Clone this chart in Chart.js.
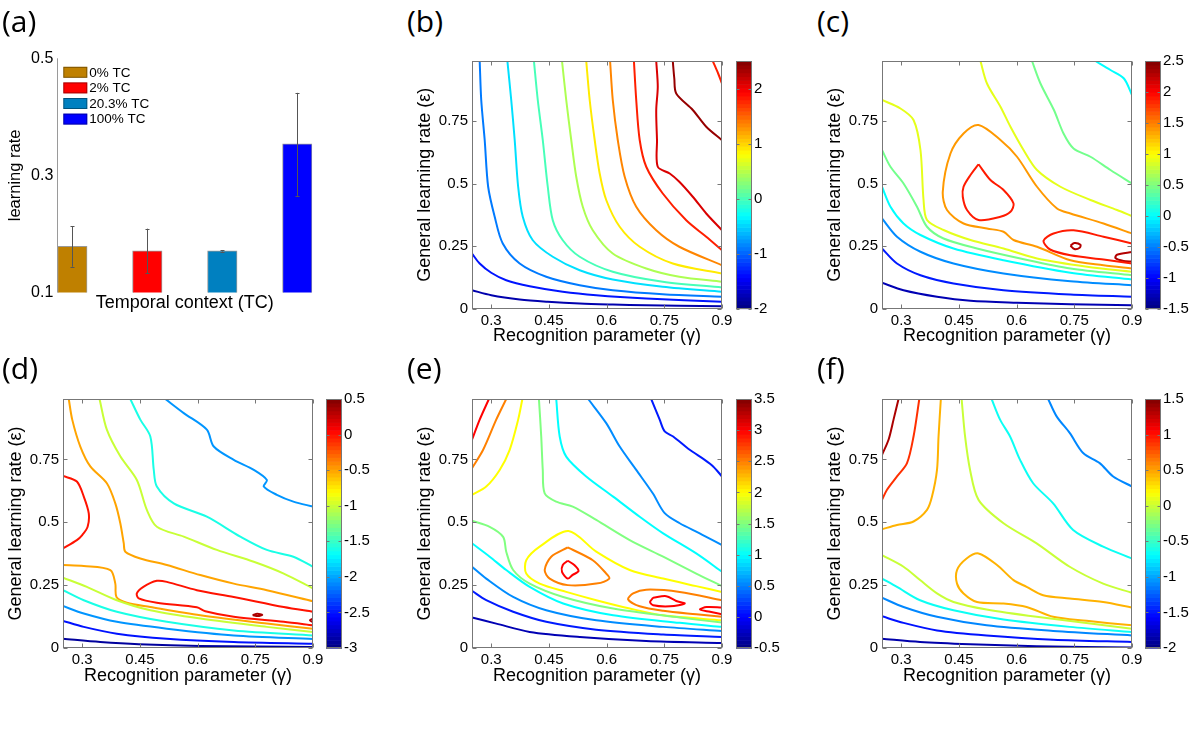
<!DOCTYPE html>
<html><head><meta charset="utf-8">
<script src="https://cdn.jsdelivr.net/npm/chart.js@4.4.0/dist/chart.umd.min.js"></script>
<style>
body{margin:0;background:#fff}
#fig{position:relative;width:1200px;height:730px;overflow:hidden;background:#fff}
#fig canvas{position:absolute}
.plab{position:absolute;font-family:'Open Sans',sans-serif;font-size:30px;line-height:30px;color:#000}
</style></head>
<body><div id="fig"></div>
<script>
// ---------------- DATA ----------------
// (a) bar chart
const barCategories = ['0% TC', '2% TC', '20.3% TC', '100% TC'];
const barValues = [0.179, 0.171, 0.171, 0.354];
const barErrLow = [0.144, 0.133, 0.170, 0.265];
const barErrHigh = [0.213, 0.209, 0.172, 0.441];
const barTicks = [0.1, 0.3, 0.5];

// shared contour axes
const gammaTicks = [0.3, 0.45, 0.6, 0.75, 0.9];
const epsTicks = [0, 0.25, 0.5, 0.75];

// (b) contour lines [gamma, epsilon]
const bL1 = [[0.25,0.073],[0.30,0.053],[0.374,0.036],[0.447,0.027],[0.53,0.020],[0.616,0.016],[0.703,0.013],[0.789,0.011],[0.9,0.009]];
const bL2 = [[0.25,0.22],[0.27,0.18],[0.30,0.143],[0.339,0.113],[0.40,0.089],[0.486,0.067],[0.573,0.053],[0.703,0.04],[0.9,0.027]];
const bL3 = [[0.27,0.99],[0.274,0.834],[0.283,0.674],[0.292,0.487],[0.309,0.367],[0.33,0.26],[0.374,0.18],[0.443,0.127],[0.53,0.093],[0.616,0.073],[0.746,0.057],[0.9,0.047]];
const bL4 = [[0.342,0.99],[0.352,0.834],[0.361,0.674],[0.37,0.487],[0.382,0.367],[0.408,0.273],[0.46,0.207],[0.53,0.153],[0.616,0.116],[0.746,0.087],[0.9,0.067]];
const bL5 = [[0.411,0.99],[0.421,0.834],[0.434,0.674],[0.447,0.487],[0.46,0.353],[0.486,0.273],[0.53,0.207],[0.616,0.147],[0.746,0.107],[0.9,0.084]];
const bL6 = [[0.484,0.99],[0.495,0.834],[0.508,0.674],[0.521,0.527],[0.538,0.407],[0.564,0.313],[0.616,0.22],[0.703,0.16],[0.789,0.127],[0.9,0.107]];
const bL7 = [[0.547,0.99],[0.556,0.834],[0.569,0.674],[0.582,0.54],[0.599,0.434],[0.634,0.327],[0.686,0.247],[0.772,0.18],[0.9,0.14]];
const bL8 = [[0.609,0.99],[0.616,0.834],[0.629,0.674],[0.647,0.527],[0.677,0.407],[0.729,0.313],[0.789,0.247],[0.9,0.173]];
const bL9 = [[0.671,0.99],[0.677,0.834],[0.686,0.674],[0.703,0.567],[0.746,0.46],[0.807,0.353],[0.859,0.287],[0.9,0.233]];
const bL10 = [[0.729,0.99],[0.733,0.887],[0.729,0.794],[0.731,0.674],[0.733,0.567],[0.764,0.54],[0.789,0.507],[0.824,0.447],[0.859,0.38],[0.9,0.313]];
const bL11 = [[0.772,0.99],[0.776,0.92],[0.781,0.86],[0.824,0.794],[0.859,0.727],[0.9,0.673]];
const bL12 = [[0.876,0.99],[0.89,0.94],[0.9,0.9]];
const bLevels = [-1.8,-1.35,-0.9,-0.45,0,0.45,0.9,1.35,1.8,2.1,2.4,1.8];
const bRange = [-2, 2.5];
const bBarTicks = [-2,-1,0,1,2];

// (c)
const cL1 = [[0.25,0.103],[0.306,0.073],[0.393,0.047],[0.48,0.031],[0.601,0.023],[0.74,0.017],[0.9,0.013]];
const cL2 = [[0.25,0.24],[0.289,0.18],[0.35,0.133],[0.436,0.1],[0.566,0.073],[0.74,0.056],[0.9,0.047]];
const cL3 = [[0.25,0.36],[0.289,0.287],[0.35,0.227],[0.436,0.18],[0.566,0.14],[0.74,0.109],[0.9,0.093]];
const cL4 = [[0.25,0.487],[0.272,0.407],[0.306,0.34],[0.35,0.294],[0.436,0.24],[0.566,0.193],[0.74,0.143],[0.9,0.116]];
const cL5 = [[0.25,0.634],[0.272,0.567],[0.306,0.5],[0.341,0.407],[0.367,0.327],[0.41,0.28],[0.497,0.24],[0.61,0.2],[0.74,0.16],[0.9,0.133]];
const cL6 = [[0.25,0.834],[0.298,0.8],[0.332,0.754],[0.35,0.634],[0.358,0.434],[0.367,0.354],[0.41,0.314],[0.48,0.274],[0.566,0.24],[0.653,0.2],[0.783,0.167],[0.9,0.147]];
const cL7 = [[0.9,0.3],[0.826,0.34],[0.74,0.38],[0.705,0.4],[0.653,0.487],[0.601,0.607],[0.558,0.674],[0.501,0.734],[0.462,0.7],[0.428,0.62],[0.408,0.467],[0.419,0.394],[0.462,0.34],[0.523,0.32],[0.566,0.307],[0.592,0.274],[0.653,0.247],[0.74,0.193],[0.826,0.173],[0.9,0.16]];
const cL8 = [[0.501,0.577],[0.532,0.514],[0.566,0.474],[0.592,0.42],[0.584,0.387],[0.558,0.367],[0.501,0.354],[0.471,0.394],[0.46,0.447],[0.462,0.487],[0.48,0.534],[0.501,0.577]];
const cL9 = [[0.9,0.26],[0.826,0.287],[0.748,0.313],[0.696,0.3],[0.67,0.271],[0.687,0.236],[0.74,0.213],[0.826,0.196],[0.9,0.18]];
const cL10 = [[0.74,0.251],[0.75,0.262],[0.766,0.255],[0.764,0.243],[0.75,0.238],[0.74,0.251]];
const cL11 = [[0.9,0.226],[0.861,0.215],[0.857,0.202],[0.878,0.19],[0.9,0.188]];
const cL12 = [[0.64,0.99],[0.662,0.9],[0.697,0.794],[0.722,0.7],[0.748,0.64],[0.792,0.607],[0.844,0.554],[0.9,0.5]];
const cL13 = [[0.506,0.99],[0.523,0.9],[0.558,0.807],[0.584,0.727],[0.618,0.634],[0.653,0.554],[0.714,0.487],[0.792,0.434],[0.861,0.394],[0.9,0.37]];
const cL14 = [[0.805,0.99],[0.844,0.954],[0.879,0.92],[0.9,0.854]];
const cLevels = [-1.3,-0.9,-0.45,0,0.45,0.9,1.4,1.9,1.9,2.3,2.3,0.45,0.9,0];
const cRange = [-1.5, 2.5];
const cBarTicks = [-1.5,-1,-0.5,0,0.5,1,1.5,2,2.5];

// (d)
const dL1 = [[0.25,0.037],[0.347,0.024],[0.447,0.015],[0.607,0.008],[0.9,0.004]];
const dL2 = [[0.25,0.108],[0.304,0.084],[0.39,0.057],[0.52,0.037],[0.694,0.024],[0.9,0.017]];
const dL3 = [[0.25,0.167],[0.304,0.137],[0.39,0.104],[0.52,0.077],[0.694,0.05],[0.9,0.036]];
const dL4 = [[0.25,0.23],[0.304,0.19],[0.39,0.144],[0.52,0.104],[0.694,0.07],[0.9,0.05]];
const dL5 = [[0.25,0.28],[0.312,0.243],[0.39,0.19],[0.477,0.15],[0.607,0.117],[0.78,0.084],[0.9,0.064]];
const dL6 = [[0.25,0.33],[0.304,0.326],[0.373,0.31],[0.386,0.256],[0.389,0.203],[0.416,0.18],[0.477,0.163],[0.607,0.13],[0.78,0.097],[0.9,0.077]];
const dL7 = [[0.265,0.99],[0.274,0.908],[0.295,0.801],[0.321,0.722],[0.364,0.655],[0.386,0.575],[0.399,0.496],[0.408,0.416],[0.412,0.383],[0.451,0.356],[0.52,0.33],[0.607,0.29],[0.694,0.256],[0.78,0.23],[0.9,0.186]];
const dL8 = [[0.9,0.144],[0.824,0.163],[0.694,0.203],[0.598,0.23],[0.52,0.263],[0.494,0.267],[0.459,0.243],[0.442,0.217],[0.447,0.197],[0.494,0.18],[0.598,0.162],[0.62,0.146],[0.694,0.124],[0.824,0.104],[0.9,0.09]];
const dL9 = [[0.25,0.684],[0.286,0.662],[0.304,0.602],[0.317,0.535],[0.314,0.482],[0.3,0.449],[0.286,0.429],[0.25,0.396]];
const dL10 = [[0.345,0.99],[0.364,0.868],[0.399,0.762],[0.442,0.668],[0.468,0.549],[0.494,0.482],[0.564,0.443],[0.65,0.39],[0.746,0.343],[0.824,0.296],[0.9,0.237]];
const dL11 = [[0.425,0.99],[0.451,0.908],[0.477,0.841],[0.486,0.708],[0.494,0.642],[0.538,0.575],[0.624,0.522],[0.711,0.443],[0.78,0.39],[0.849,0.363],[0.9,0.323]];
const dL12 = [[0.516,0.99],[0.564,0.934],[0.624,0.868],[0.642,0.801],[0.694,0.748],[0.746,0.708],[0.78,0.668],[0.772,0.642],[0.806,0.609],[0.849,0.582],[0.9,0.562]];
const dL13 = [[0.743,0.131],[0.755,0.136],[0.768,0.132],[0.757,0.127],[0.743,0.131]];
const dL14 = [[0.9,0.117],[0.892,0.11],[0.9,0.102]];
const dLevels = [-2.9,-2.5,-2.05,-1.6,-1.0,-0.5,-0.5,0,0,-1.0,-1.6,-2.05,0.35,0.35];
const dRange = [-3, 0.5];
const dBarTicks = [-3,-2.5,-2,-1.5,-1,-0.5,0,0.5];

// (e)
const eL1 = [[0.25,0.121],[0.313,0.097],[0.4,0.064],[0.53,0.044],[0.703,0.028],[0.9,0.02]];
const eL2 = [[0.25,0.227],[0.287,0.19],[0.357,0.144],[0.443,0.104],[0.573,0.073],[0.747,0.054],[0.9,0.044]];
const eL3 = [[0.25,0.323],[0.287,0.276],[0.357,0.203],[0.443,0.15],[0.573,0.11],[0.747,0.084],[0.9,0.068]];
const eL4 = [[0.25,0.416],[0.296,0.363],[0.339,0.31],[0.4,0.243],[0.487,0.177],[0.617,0.13],[0.79,0.1],[0.9,0.084]];
const eL5 = [[0.25,0.506],[0.296,0.482],[0.331,0.442],[0.339,0.383],[0.357,0.31],[0.4,0.256],[0.487,0.203],[0.617,0.157],[0.79,0.121],[0.9,0.101]];
const eL6 = [[0.9,0.223],[0.833,0.246],[0.747,0.276],[0.66,0.31],[0.573,0.383],[0.501,0.465],[0.426,0.403],[0.391,0.349],[0.391,0.296],[0.426,0.256],[0.495,0.223],[0.573,0.19],[0.66,0.157],[0.747,0.13],[0.9,0.11]];
const eL7 = [[0.499,0.4],[0.564,0.349],[0.599,0.296],[0.607,0.276],[0.573,0.256],[0.499,0.25],[0.452,0.276],[0.439,0.31],[0.456,0.363],[0.499,0.4]];
const eL8 = [[0.499,0.347],[0.516,0.33],[0.527,0.306],[0.511,0.29],[0.499,0.276],[0.484,0.303],[0.486,0.33],[0.499,0.347]];
const eL9 = [[0.9,0.19],[0.79,0.223],[0.703,0.232],[0.669,0.217],[0.656,0.193],[0.686,0.166],[0.747,0.148],[0.833,0.134],[0.9,0.124]];
const eL10 = [[0.721,0.2],[0.755,0.206],[0.781,0.187],[0.803,0.177],[0.765,0.166],[0.721,0.17],[0.713,0.183],[0.721,0.2]];
const eL11 = [[0.9,0.161],[0.86,0.163],[0.843,0.153],[0.869,0.144],[0.9,0.134]];
const eL12 = [[0.424,0.99],[0.43,0.841],[0.434,0.708],[0.439,0.615],[0.469,0.582],[0.512,0.562],[0.573,0.509],[0.66,0.429],[0.747,0.363],[0.833,0.296],[0.9,0.246]];
const eL13 = [[0.469,0.99],[0.478,0.841],[0.495,0.761],[0.547,0.682],[0.617,0.602],[0.686,0.522],[0.747,0.456],[0.833,0.376],[0.9,0.303]];
const eL14 = [[0.552,0.99],[0.599,0.894],[0.634,0.801],[0.677,0.708],[0.72,0.615],[0.751,0.536],[0.79,0.496],[0.842,0.456],[0.9,0.409]];
const eL15 = [[0.716,0.99],[0.738,0.908],[0.751,0.861],[0.773,0.841],[0.816,0.788],[0.855,0.748],[0.877,0.722],[0.9,0.682]];
const eL16 = [[0.25,0.828],[0.27,0.908],[0.294,0.99]];
const eL17 = [[0.25,0.715],[0.279,0.788],[0.313,0.908],[0.339,0.99]];
const eL18 = [[0.25,0.609],[0.287,0.642],[0.322,0.708],[0.348,0.788],[0.37,0.908],[0.381,0.99]];
const eLevels = [-0.3,0.1,0.55,1.0,1.5,2.0,2.5,3.0,2.5,3.0,3.0,1.5,1.0,0.55,0.1,3.0,2.5,2.0];
const eRange = [-0.5, 3.5];
const eBarTicks = [-0.5,0,0.5,1,1.5,2,2.5,3,3.5];

// (f)
const fL1 = [[0.25,0.037],[0.349,0.024],[0.479,0.015],[0.652,0.007],[0.9,0.002]];
const fL2 = [[0.25,0.126],[0.306,0.1],[0.393,0.07],[0.522,0.05],[0.695,0.033],[0.9,0.024]];
const fL3 = [[0.25,0.2],[0.306,0.163],[0.393,0.124],[0.522,0.09],[0.695,0.068],[0.9,0.05]];
const fL4 = [[0.25,0.276],[0.289,0.243],[0.349,0.19],[0.436,0.15],[0.566,0.113],[0.738,0.084],[0.9,0.064]];
const fL5 = [[0.25,0.369],[0.306,0.323],[0.349,0.27],[0.393,0.217],[0.436,0.183],[0.522,0.153],[0.652,0.124],[0.9,0.077]];
const fL6 = [[0.9,0.161],[0.825,0.183],[0.738,0.197],[0.669,0.21],[0.626,0.243],[0.592,0.27],[0.549,0.33],[0.501,0.376],[0.47,0.356],[0.445,0.31],[0.445,0.256],[0.462,0.217],[0.497,0.183],[0.566,0.177],[0.626,0.163],[0.695,0.124],[0.782,0.108],[0.9,0.09]];
const fL7 = [[0.457,0.99],[0.466,0.841],[0.479,0.708],[0.501,0.589],[0.566,0.496],[0.652,0.416],[0.738,0.323],[0.825,0.256],[0.9,0.219]];
const fL8 = [[0.535,0.99],[0.557,0.908],[0.583,0.841],[0.609,0.748],[0.643,0.655],[0.695,0.575],[0.747,0.469],[0.825,0.403],[0.9,0.356]];
const fL9 = [[0.682,0.99],[0.704,0.921],[0.738,0.855],[0.773,0.775],[0.816,0.735],[0.851,0.682],[0.9,0.642]];
const fL10 = [[0.403,0.99],[0.397,0.841],[0.393,0.708],[0.38,0.602],[0.367,0.549],[0.332,0.503],[0.289,0.489],[0.25,0.472]];
const fL11 = [[0.347,0.99],[0.332,0.841],[0.315,0.735],[0.289,0.682],[0.263,0.629],[0.25,0.589]];
const fL12 = [[0.293,0.99],[0.28,0.908],[0.267,0.828],[0.25,0.768]];
const fLevels = [-1.85,-1.5,-1.1,-0.65,0.0,0.45,0.0,-0.65,-1.1,0.45,0.9,1.35];
const fRange = [-2, 1.5];
const fBarTicks = [-2,-1.5,-1,-0.5,0,0.5,1,1.5];

// ---------------- RENDERING ----------------
Chart.defaults.font.family = "'Liberation Sans', Arial, Helvetica, sans-serif";
Chart.defaults.color = '#000';
const fig = document.getElementById('fig');
const BOX = '#777';

function clamp01(v){ return Math.max(0, Math.min(1, v)); }
function jet(t){
  t = clamp01(t);
  const r = clamp01(1.5 - Math.abs(4*t - 3));
  const g = clamp01(1.5 - Math.abs(4*t - 2));
  const b = clamp01(1.5 - Math.abs(4*t - 1));
  return 'rgb(' + Math.round(r*255) + ',' + Math.round(g*255) + ',' + Math.round(b*255) + ')';
}
function makeCanvas(left, top, w, h){
  const c = document.createElement('canvas');
  c.width = w; c.height = h;
  c.style.left = left + 'px'; c.style.top = top + 'px';
  c.style.width = w + 'px'; c.style.height = h + 'px';
  fig.appendChild(c);
  return c;
}
function label(text, left, top){
  const d = document.createElement('div');
  d.className = 'plab'; d.textContent = text;
  d.style.left = left + 'px'; d.style.top = top + 'px';
  fig.appendChild(d);
}

const boxPlugin = {
  id: 'matBox',
  afterDatasetsDraw(chart){
    const {ctx, chartArea: a, scales: {x, y}} = chart;
    const L = Math.round(a.left) + 0.5, R = Math.round(a.right) - 0.5;
    const T = Math.round(a.top) + 0.5, B = Math.round(a.bottom) - 0.5;
    ctx.save();
    ctx.strokeStyle = BOX; ctx.lineWidth = 1;
    ctx.strokeRect(L, T, R - L, B - T);
    ctx.beginPath();
    gammaTicks.forEach(v => {
      const px = Math.round(x.getPixelForValue(v)) + 0.5;
      ctx.moveTo(px, B); ctx.lineTo(px, B - 4);
      ctx.moveTo(px, T); ctx.lineTo(px, T + 4);
    });
    epsTicks.forEach(v => {
      const py = Math.round(y.getPixelForValue(v)) + 0.5;
      ctx.moveTo(L, py); ctx.lineTo(L + 4, py);
      ctx.moveTo(R, py); ctx.lineTo(R - 4, py);
    });
    ctx.stroke();
    ctx.restore();
  }
};

function contourChart(p){
  const cv = makeCanvas(p.cx, p.cy, p.cw, p.ch);
  const datasets = p.lines.map((pts, i) => ({
    data: pts.map(q => ({x: q[0], y: q[1]})),
    showLine: true,
    borderColor: jet((p.levels[i] - p.range[0]) / (p.range[1] - p.range[0])),
    borderWidth: 2,
    pointRadius: 0, pointHoverRadius: 0,
    tension: 0.3, fill: false
  }));
  new Chart(cv, {
    type: 'scatter',
    data: {datasets},
    options: {
      responsive: false, animation: false, events: [],
      layout: {padding: {left: 0, top: 14, right: p.cw - 58 - 250, bottom: 0}},
      plugins: {legend: {display: false}, tooltip: {enabled: false}},
      scales: {
        x: {
          type: 'linear', min: 0.25, max: 0.9,
          afterBuildTicks: s => { s.ticks = gammaTicks.map(v => ({value: v})); },
          afterFit: s => { s.height = p.xh; },
          grid: {display: false, drawTicks: false}, border: {display: false},
          ticks: {font: {size: 15}, color: '#000', padding: 3, maxRotation: 0, autoSkip: false, callback: v => String(v)},
          title: {display: true, text: 'Recognition parameter (\u03b3)', font: {size: 18}, color: '#000', padding: 0}
        },
        y: {
          type: 'linear', min: 0, max: 0.99,
          afterBuildTicks: s => { s.ticks = epsTicks.map(v => ({value: v})); },
          afterFit: s => { s.width = 58; },
          grid: {display: false, drawTicks: false}, border: {display: false},
          ticks: {font: {size: 15}, color: '#000', padding: 4, autoSkip: false, callback: v => String(v)},
          title: {display: true, text: 'General learning rate (\u03b5)', font: {size: 18}, color: '#000', padding: 0}
        }
      }
    },
    plugins: [boxPlugin]
  });
}

const cbPlugin = {
  id: 'cbar',
  beforeDatasetsDraw(chart){
    const {ctx, chartArea: a, scales: {y}} = chart;
    const lo = y.min, hi = y.max, n = 64, step = (hi - lo) / n;
    ctx.save();
    for (let k = 0; k < n; k++){
      const y0 = y.getPixelForValue(lo + k*step), y1 = y.getPixelForValue(lo + (k+1)*step);
      ctx.fillStyle = jet((k + 0.5) / n);
      ctx.fillRect(a.left, y1, a.right - a.left, y0 - y1 + 0.6);
    }
    const L = Math.round(a.left) + 0.5, R = Math.round(a.right) - 0.5;
    const T = Math.round(a.top) + 0.5, B = Math.round(a.bottom) - 0.5;
    ctx.strokeStyle = BOX; ctx.lineWidth = 1;
    ctx.strokeRect(L, T, R - L, B - T);
    ctx.beginPath();
    chart.options.scales.y.cbTicks.forEach(v => {
      const py = Math.round(y.getPixelForValue(v)) + 0.5;
      ctx.moveTo(L, py); ctx.lineTo(L + 3, py);
      ctx.moveTo(R, py); ctx.lineTo(R - 3, py);
    });
    ctx.stroke();
    ctx.restore();
  }
};

function colorbar(p){
  const cv = makeCanvas(p.bx - 2, p.cy, 63, p.ch);
  new Chart(cv, {
    type: 'scatter',
    data: {datasets: []},
    options: {
      responsive: false, animation: false, events: [],
      layout: {padding: {left: 2, top: 14, right: 0, bottom: p.bpad}},
      plugins: {legend: {display: false}, tooltip: {enabled: false}},
      scales: {
        x: {display: false, min: 0, max: 1},
        y: {
          position: 'right', min: p.range[0], max: p.range[1], cbTicks: p.ticks,
          afterBuildTicks: s => { s.ticks = p.ticks.map(v => ({value: v})); },
          afterFit: s => { s.width = 45; },
          grid: {display: false, drawTicks: false}, border: {display: false},
          ticks: {font: {size: 15}, color: '#000', padding: 2, autoSkip: false, callback: v => String(v)}
        }
      }
    },
    plugins: [cbPlugin]
  });
}

// (a) bar chart
const barColors = ['#BF8000', '#FF0000', '#0080C0', '#0000FF'];
const errPlugin = {
  id: 'errbars',
  afterDatasetsDraw(chart){
    const {ctx, chartArea: a, scales: {x, y}} = chart;
    ctx.save();
    ctx.strokeStyle = '#9a9a9a'; ctx.lineWidth = 1;
    ctx.beginPath();
    ctx.moveTo(Math.round(a.left) + 0.5, a.top); ctx.lineTo(Math.round(a.left) + 0.5, a.bottom);
    ctx.stroke();
    ctx.strokeStyle = '#555'; ctx.lineWidth = 1;
    ctx.beginPath();
    barValues.forEach((v, i) => {
      const px = Math.round(x.getPixelForValue(i + 1)) + 0.5;
      const yl = y.getPixelForValue(barErrLow[i]), yh = y.getPixelForValue(barErrHigh[i]);
      ctx.moveTo(px, yl); ctx.lineTo(px, yh);
      ctx.moveTo(px - 2, Math.round(yl) + 0.5); ctx.lineTo(px + 2, Math.round(yl) + 0.5);
      ctx.moveTo(px - 2, Math.round(yh) + 0.5); ctx.lineTo(px + 2, Math.round(yh) + 0.5);
    });
    ctx.stroke();
    ctx.font = "13.5px 'Liberation Sans', Arial, sans-serif";
    ctx.textBaseline = 'middle'; ctx.textAlign = 'left';
    barCategories.forEach((c, i) => {
      const cy = a.top + 14 + i * 15.6;
      ctx.fillStyle = barColors[i];
      ctx.fillRect(a.left + 6, cy - 5.5, 24, 11);
      ctx.strokeStyle = 'rgba(0,0,0,0.35)';
      ctx.strokeRect(a.left + 6.5, cy - 5, 23, 10);
      ctx.fillStyle = '#000';
      ctx.fillText(c, a.left + 32, cy + 0.5);
    });
    ctx.restore();
  }
};
const cvA = makeCanvas(0, 40, 329, 274);
new Chart(cvA, {
  type: 'bar',
  data: {datasets: [{
    data: barValues.map((v, i) => ({x: i + 1, y: v})),
    backgroundColor: barColors,
    borderColor: 'rgba(0,0,0,0.4)', borderWidth: 1,
    barThickness: 29.5, clip: 0
  }]},
  options: {
    responsive: false, animation: false, events: [],
    layout: {padding: {left: 5.8, top: 18.3, right: 16.7, bottom: 0}},
    plugins: {legend: {display: false}, tooltip: {enabled: false}},
    scales: {
      x: {
        type: 'linear', min: 0.8, max: 4.2, offset: false,
        ticks: {display: false}, grid: {display: false, drawTicks: false, offset: false}, border: {display: false},
        afterFit: s => { s.height = 21.5; },
        title: {display: true, text: 'Temporal context (TC)', font: {size: 18}, color: '#000', padding: 0}
      },
      y: {
        min: 0.1, max: 0.5,
        afterBuildTicks: s => { s.ticks = barTicks.map(v => ({value: v})); },
        afterFit: s => { s.width = 51.5; },
        grid: {display: false, drawTicks: false}, border: {display: false},
        ticks: {font: {size: 16}, color: '#000', padding: 4, callback: v => String(v)},
        title: {display: true, text: 'learning rate', font: {size: 16.5}, color: '#000', padding: 0}
      }
    }
  },
  plugins: [errPlugin]
});

// contour panels
const row1 = {cy: 47, ch: 300, xh: 38.5, cbh: 276, bpad: 14.5};
const row2 = {cy: 385, ch: 302, xh: 39, cbh: 277, bpad: 14};
const panels = [
  {cx: 414, row: row1, bx: 736, lines: [bL1,bL2,bL3,bL4,bL5,bL6,bL7,bL8,bL9,bL10,bL11,bL12], levels: bLevels, range: bRange, ticks: bBarTicks},
  {cx: 824, row: row1, bx: 1145, lines: [cL1,cL2,cL3,cL4,cL5,cL6,cL7,cL8,cL9,cL10,cL11,cL12,cL13,cL14], levels: cLevels, range: cRange, ticks: cBarTicks},
  {cx: 5, row: row2, bx: 326, lines: [dL1,dL2,dL3,dL4,dL5,dL6,dL7,dL8,dL9,dL10,dL11,dL12,dL13,dL14], levels: dLevels, range: dRange, ticks: dBarTicks},
  {cx: 414, row: row2, bx: 736, lines: [eL1,eL2,eL3,eL4,eL5,eL6,eL7,eL8,eL9,eL10,eL11,eL12,eL13,eL14,eL15,eL16,eL17,eL18], levels: eLevels, range: eRange, ticks: eBarTicks},
  {cx: 824, row: row2, bx: 1145, lines: [fL1,fL2,fL3,fL4,fL5,fL6,fL7,fL8,fL9,fL10,fL11,fL12], levels: fLevels, range: fRange, ticks: fBarTicks}
];
panels.forEach(p => {
  contourChart({cx: p.cx, cy: p.row.cy, cw: 324, ch: p.row.ch, xh: p.row.xh, lines: p.lines, levels: p.levels, range: p.range});
  colorbar({bx: p.bx, cy: p.row.cy, ch: p.row.cbh, bpad: p.row.bpad, range: p.range, ticks: p.ticks});
});

// panel letters
label('(a)', 2, 6); label('(b)', 407, 6); label('(c)', 817, 6);
label('(d)', 2, 353); label('(e)', 407, 353); label('(f)', 817, 353);
</script></body></html>
